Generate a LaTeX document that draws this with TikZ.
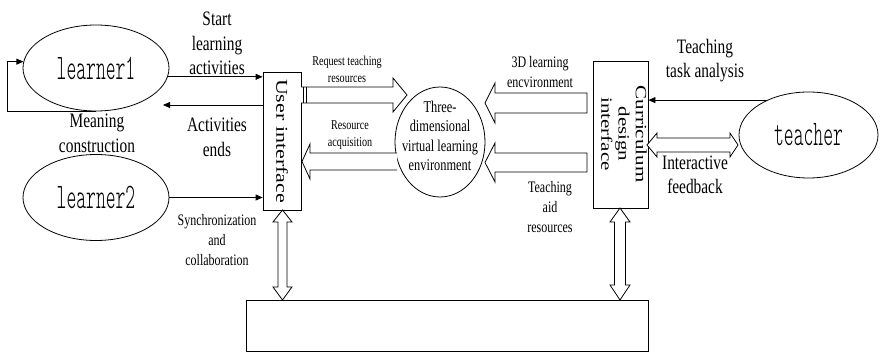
\documentclass[tikz,border=0pt]{standalone}
\usepackage{fontspec}
\setmainfont{Liberation Serif}[FakeStretch=0.75]
\newfontfamily\uprightserif{Liberation Serif}
\usepackage{graphicx}
\usetikzlibrary{shapes.geometric,arrows.meta,calc}

\tikzset{
  thin line/.style={line width=0.8pt},
  flow/.style={thin line, -{Triangle[length=7pt,width=6pt]}},
  lbl/.style={align=center, inner sep=0pt},
  big/.style={font=\fontsize{20.5}{24.5}\selectfont},
  mid/.style={font=\fontsize{16}{20}\selectfont},
  small/.style={font=\fontsize{13.5}{17}\selectfont},
  hollow/.style={draw, thin line, fill=white, line join=miter},
  actor/.style={ellipse, draw, thin line, inner sep=0pt},
  panel/.style={draw, thin line, inner sep=0pt},
}
\newcommand{\actorname}[1]{\scalebox{0.52}[1]{\ttfamily\fontseries{l}\fontsize{36}{36}\selectfont #1}}

\begin{document}
\begin{tikzpicture}[x=1pt,y=-1pt]
\useasboundingbox (0,0) rectangle (880,352);

% actors
\node[actor, minimum width=146pt, minimum height=86pt] (learner1) at (96,68) {\actorname{learner1}};
\node[actor, minimum width=146pt, minimum height=86pt] (learner2) at (96,197.5) {\actorname{learner2}};
\node[actor, minimum width=139pt, minimum height=86pt] (teacher) at (808.5,135) {\actorname{teacher}};

% interfaces
\node[panel, minimum width=38pt, minimum height=138pt] (ui) at (282,141) {};
\node[rotate=-90, inner sep=0pt] (uitext) at (282,141)
  {\scalebox{1}[0.75]{\uprightserif\fontsize{22}{22}\selectfont User interface}};
\node[panel, minimum width=55pt, minimum height=147pt] (cdi) at (620.5,134.5) {};
\node[rotate=-90, inner sep=0pt] (cditext) at (622,134)
  {\scalebox{1}[0.75]{\uprightserif\fontsize{21}{23}\selectfont
   \begin{tabular}{@{}c@{}}Curriculum\\design\\interface\end{tabular}}};

% learning environment
\node[actor, minimum width=90pt, minimum height=110pt] (env) at (440,142) {};
\node[lbl, font=\fontsize{16.5}{19.5}\selectfont] (envtext) at (440,136)
  {Three-\\dimensional\\virtual learning\\environment};

% platform
\node[panel, minimum width=402pt, minimum height=51pt] (base) at (447,325.5) {};

% learner connectors
\coordinate (loopx) at (7,0);
\coordinate (backend) at (163,105);
\draw[flow] (learner1.south) -- (learner1.south -| loopx) |- (learner1.175);
\draw[flow] (learner1.-7) -- (learner1.-7 -| ui.west);
\draw[flow] (ui.west |- backend) -- (backend);
\draw[flow] (learner2.east) -- (learner2.east -| ui.west);
\draw[flow] (teacher.140) -- (teacher.140 -| cdi.east);

% block arrows between interfaces and environment
\draw[hollow] (301,87) -- (393,87) -- (393,78) -- (407,95) -- (393,112) -- (393,103) -- (301,103);
\draw[thin line] (303.5,87) -- (303.5,103) (306,87) -- (306,103);
\draw[hollow] (397,153) -- (310,153) -- (310,144) -- (302,161.5) -- (310,179) -- (310,170) -- (397,170);
\draw[hollow] (587,93) -- (495,93) -- (495,83) -- (485,103) -- (495,123) -- (495,113) -- (587,113) -- cycle;
\draw[hollow] (587,153) -- (495,153) -- (495,143) -- (485,162.5) -- (495,182) -- (495,172) -- (587,172) -- cycle;

% two-way block arrows
\draw[hollow] (647,145) -- (657,133) -- (657,138) -- (730,138) -- (730,133) -- (738,145)
  -- (730,157) -- (730,152) -- (657,152) -- (657,157) -- cycle;
\draw[hollow] (282.5,210) -- (292,222) -- (287,222) -- (287,287) -- (292,287) -- (282.5,300)
  -- (273,287) -- (278,287) -- (278,222) -- (273,222) -- cycle;
\draw[hollow] (620,208) -- (630,222) -- (625.5,222) -- (625.5,285) -- (630,285) -- (620,300)
  -- (610,285) -- (614.5,285) -- (614.5,222) -- (610,222) -- cycle;

% labels
\node[lbl, big] (l1) at (217,43.5) {Start\\learning\\activities};
\node[lbl, big] (l2) at (217,137.5) {Activities\\ends};
\node[lbl, big, fill=white, inner sep=1pt] (l3) at (97,133.5) {Meaning\\construction};
\node[lbl, mid] (l4) at (217,240) {Synchronization\\and\\collaboration};
\node[lbl, small] (l5) at (347,69) {Request teaching\\resources};
\node[lbl, small] (l6) at (350,135) {Resource\\acquisition};
\node[lbl, mid] (l7) at (540,72) {3D learning\\encvironment};
\node[lbl, mid] (l8) at (550,207.5) {Teaching\\aid\\resources};
\node[lbl, big] (l9) at (705,60.5) {Teaching\\task analysis};
\node[lbl, big] (l10) at (695,175) {Interactive\\feedback};
\end{tikzpicture}
\end{document}
